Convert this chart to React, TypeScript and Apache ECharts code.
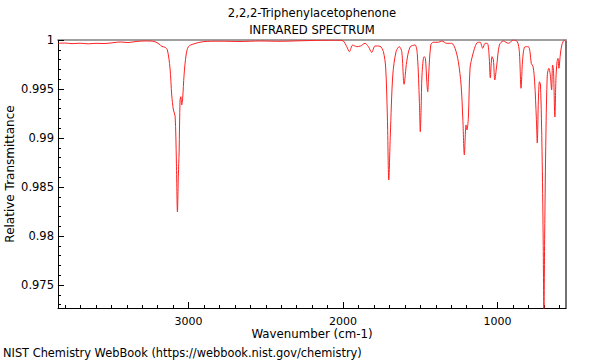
import React, { useEffect, useRef } from "react";
import * as echarts from "echarts";

const titleLines = ["2,2,2-Triphenylacetophenone", "INFRARED SPECTRUM"];
const footerText = "NIST Chemistry WebBook (https://webbook.nist.gov/chemistry)";
const xName = "Wavenumber (cm-1)";
const yName = "Relative Transmittance";

const xMin = 557;
const xMax = 3845;
const yMin = 0.97265;
const yMax = 1;

const xMajorTicks = [1000, 2000, 3000];
const yMajorTicks = [0.975, 0.98, 0.985, 0.99, 0.995, 1];

const wavenumber = [
  3845, 3799, 3754, 3702, 3650, 3599, 3547, 3495, 3443, 3392,
  3340, 3288, 3249, 3217, 3191, 3172, 3152, 3137, 3120, 3109,
  3098, 3087, 3079, 3072, 3066, 3061, 3055, 3050, 3044, 3038,
  3029, 3016, 3001, 2969, 2906, 2796, 2667, 2537, 2408, 2278,
  2149, 2019, 1998, 1976, 1959, 1937, 1911, 1886, 1858, 1836,
  1814, 1793, 1761, 1739, 1724, 1713, 1704, 1694, 1678, 1657,
  1636, 1620, 1605, 1588, 1566, 1534, 1519, 1506, 1500, 1495,
  1489, 1476, 1467, 1458, 1452, 1446, 1432, 1416, 1383, 1361,
  1329, 1297, 1275, 1254, 1236, 1225, 1215, 1204, 1198, 1189,
  1178, 1161, 1135, 1113, 1096, 1081, 1066, 1055, 1047, 1036,
  1027, 1018, 1005, 988, 963, 930, 898, 872, 859, 848,
  837, 822, 801, 790, 782, 770, 760, 749, 743, 736,
  729, 722, 712, 705, 700, 695, 687, 678, 668, 659,
  650, 644, 638, 629, 622, 615, 609, 603, 594, 584,
  567, 557,
];

const transmittance = [
  0.99966, 0.99969, 0.99963, 0.99967, 0.99961, 0.99966, 0.99964, 0.99971, 0.9998, 0.99974,
  0.99985, 0.9999, 0.9999, 0.99982, 0.99959, 0.99934, 0.99926, 0.99898, 0.99714, 0.99439,
  0.99286, 0.99224, 0.98776, 0.98245, 0.98622, 0.98857, 0.99388, 0.99421, 0.99337, 0.99408,
  0.99643, 0.99847, 0.99932, 0.99959, 0.99983, 0.99988, 0.99985, 0.9999, 0.99987, 0.99992,
  0.99997, 0.99998, 0.9999, 0.99932, 0.99881, 0.99949, 0.99932, 0.99939, 0.99966, 0.99932,
  0.99874, 0.99939, 0.99936, 0.99881, 0.99714, 0.99204, 0.98571, 0.99031, 0.99643, 0.99881,
  0.99932, 0.99881, 0.99548, 0.99779, 0.99929, 0.99949, 0.99847, 0.9937, 0.99064, 0.99286,
  0.99643, 0.9983, 0.99813, 0.99574, 0.99472, 0.99643, 0.99949, 0.99977, 0.99977, 0.9999,
  0.99966, 0.99966, 0.99915, 0.99779, 0.99541, 0.99204, 0.98827, 0.99133, 0.99082, 0.99204,
  0.99714, 0.99847, 0.99969, 0.99977, 0.99915, 0.99966, 0.99966, 0.99847, 0.99615, 0.9983,
  0.99796, 0.99592, 0.99745, 0.99949, 0.9999, 0.99966, 1.0, 0.99983, 0.99881, 0.99507,
  0.99813, 0.99932, 0.99932, 0.9988, 0.99762, 0.99728, 0.99574, 0.99204, 0.98949, 0.9937,
  0.99574, 0.99541, 0.9886, 0.9801, 0.9719, 0.9801, 0.99031, 0.99643, 0.99711, 0.9965,
  0.9949, 0.99745, 0.9969, 0.99214, 0.99609, 0.99779, 0.99813, 0.99711, 0.99847, 0.99949,
  1.0, 0.99983,
];

const xMinorTicks: number[] = [];
for (let v = 600; v <= 3800; v += 100) xMinorTicks.push(v);
const yMinorTicks: number[] = [];
for (let k = 973; k <= 999; k++) yMinorTicks.push(k / 1000);

const FONT = "DejaVu Sans";

export default function App() {
  const ref = useRef<HTMLDivElement>(null);
  useEffect(() => {
    document.body.style.margin = "0";
    if (!ref.current) return;
    const chart = echarts.init(ref.current, undefined, { renderer: "svg" });
    const data = wavenumber.map((w, i) => [w, transmittance[i]]);
    const baseX = { type: "value", min: xMin, max: xMax, inverse: true, splitLine: { show: false } };
    const baseY = { type: "value", min: yMin, max: yMax, splitLine: { show: false } };
    chart.setOption({
      animation: false,
      backgroundColor: "#fff",
      grid: { left: 58, right: 34, top: 40, bottom: 52, containLabel: false, outerBoundsMode: "none" },
      xAxis: [
        {
          ...baseX,
          position: "bottom",
          name: xName,
          nameLocation: "middle",
          nameGap: 20,
          nameMoveOverlap: false,
          nameTextStyle: { fontFamily: FONT, fontSize: 11.8, color: "#000" },
          axisLine: { show: true, onZero: false, lineStyle: { color: "#000", width: 1 } },
          axisTick: { show: true, inside: true, length: 6, customValues: xMajorTicks, lineStyle: { color: "#000" } },
          axisLabel: {
            customValues: xMajorTicks,
            fontFamily: FONT,
            fontSize: 11,
            color: "#000",
            margin: 8,
            formatter: (v: number) => String(v),
          },
        },
        {
          ...baseX,
          position: "bottom",
          axisLine: { show: false, onZero: false },
          axisTick: { show: true, inside: true, length: 3, customValues: xMinorTicks, lineStyle: { color: "#000" } },
          axisLabel: { show: false },
        },
        {
          ...baseX,
          position: "top",
          axisLine: { show: true, onZero: false, lineStyle: { color: "#a0a0a0", width: 2 } },
          axisTick: { show: false },
          axisLabel: { show: false },
        },
      ],
      yAxis: [
        {
          ...baseY,
          position: "left",
          name: yName,
          nameLocation: "middle",
          nameGap: 42,
          nameMoveOverlap: false,
          nameTextStyle: { fontFamily: FONT, fontSize: 12, color: "#000" },
          axisLine: { show: true, onZero: false, lineStyle: { color: "#000", width: 1 } },
          axisTick: { show: true, inside: true, length: 6, customValues: yMajorTicks, lineStyle: { color: "#000" } },
          axisLabel: {
            customValues: yMajorTicks,
            fontFamily: FONT,
            fontSize: 11.5,
            color: "#000",
            margin: 4,
            formatter: (v: number) => String(+v.toFixed(3)),
          },
        },
        {
          ...baseY,
          position: "left",
          axisLine: { show: false, onZero: false },
          axisTick: { show: true, inside: true, length: 3, customValues: yMinorTicks, lineStyle: { color: "#000" } },
          axisLabel: { show: false },
        },
        {
          ...baseY,
          position: "right",
          axisLine: { show: true, onZero: false, lineStyle: { color: "#444", width: 1.5 } },
          axisTick: { show: false },
          axisLabel: { show: false },
        },
      ],
      graphic: [
        {
          type: "text",
          x: 312,
          y: 13,
          style: { text: titleLines[0], font: `11.6px "${FONT}"`, fill: "#000", textAlign: "center", textVerticalAlign: "middle" },
        },
        {
          type: "text",
          x: 312,
          y: 30,
          style: { text: titleLines[1], font: `11.6px "${FONT}"`, fill: "#000", textAlign: "center", textVerticalAlign: "middle" },
        },
        {
          type: "text",
          x: 3,
          y: 353,
          style: { text: footerText, font: `11.4px "${FONT}"`, fill: "#000", textAlign: "left", textVerticalAlign: "middle" },
        },
      ],
      series: [
        {
          type: "line",
          xAxisIndex: 0,
          yAxisIndex: 0,
          data,
          showSymbol: false,
          symbol: "none",
          smooth: 0.3,
          clip: true,
          lineStyle: { color: "#ff2020", width: 1 },
        },
      ],
    });
    return () => chart.dispose();
  }, []);
  return <div ref={ref} style={{ width: 600, height: 360 }} />;
}
